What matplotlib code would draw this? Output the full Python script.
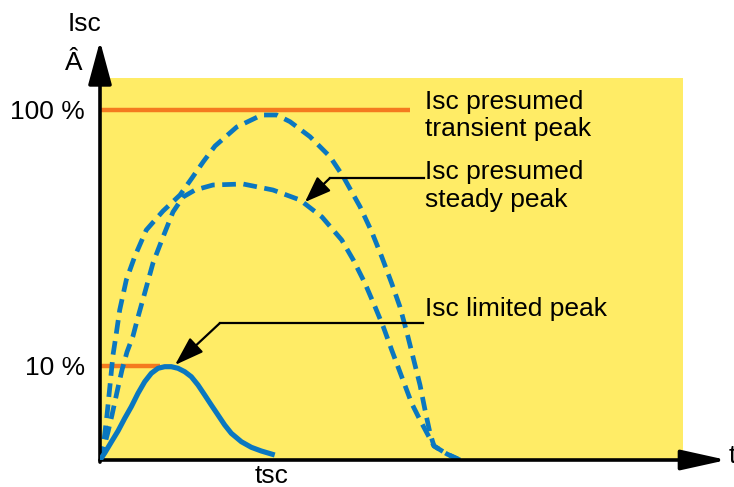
import matplotlib
matplotlib.use("Agg")
import matplotlib.pyplot as plt

plt.rcParams['font.family'] = ['Liberation Sans', 'DejaVu Sans']

# ---- data (time in arbitrary units 0..100, current in % of presumed transient peak scale)
t_transient = [0, 0.69, 1.20, 1.72, 2.23, 2.80, 3.38, 4.51, 5.95, 7.94, 10.81, 13.72, 15.78,
               17.72, 19.73, 23.45, 27.74, 30.31, 32.59, 36.02, 39.45, 41.73, 44.60, 46.60,
               48.32, 50.03, 51.46, 52.66, 53.69, 54.89, 55.75, 56.60, 57.29, 59.52, 61.75]
i_transient = [0, 5.71, 12.86, 21.43, 30.0, 36.2, 42.86, 51.43, 58.09, 65.71, 71.14, 75.71, 80.57,
               85.23, 89.71, 95.14, 98.57, 98.57, 96.66, 92.37, 86.66, 80.94, 72.37, 65.23,
               58.09, 50.49, 43.71, 36.29, 29.43, 21.43, 14.29, 7.71, 4.0, 1.71, 0]

t_steady = [0, 0.69, 1.37, 2.06, 2.92, 3.77, 4.63, 5.66, 6.52, 7.67, 9.09, 10.81, 12.52, 14.24,
            16.30, 19.38, 24.53, 29.67, 34.31, 38.08, 41.46, 43.45, 45.45, 47.17, 48.59, 50.03,
            51.75, 53.46, 54.89, 56.26, 57.29, 59.52, 61.75]
i_steady = [0, 3.71, 8.0, 12.86, 19.43, 25.71, 30.86, 35.43, 40.86, 47.71, 56.29, 63.71, 70.86, 75.14,
            77.14, 78.57, 78.86, 77.14, 74.29, 69.43, 62.86, 57.14, 50.49, 43.8, 38.09, 31.43,
            23.8, 16.2, 11.43, 7.14, 4.0, 1.71, 0]

t_limited = [0, 0.81, 1.94, 3.09, 4.24, 5.37, 6.52, 7.67, 8.80, 9.95, 11.10, 12.23, 13.38, 14.53,
             15.66, 16.81, 17.96, 19.09, 20.24, 21.39, 22.52, 24.24, 25.95, 27.67, 29.97]
i_limited = [0, 2.0, 5.14, 8.29, 11.91, 15.23, 19.06, 22.37, 24.77, 26.2, 26.66, 26.66, 26.2, 25.23,
             23.8, 21.43, 18.57, 15.71, 12.86, 10.0, 7.63, 5.23, 3.63, 2.57, 1.43]

level_100 = 100.0
level_10 = 26.86
t_sc = 29.45
ytick_values = [level_10, level_100]
ytick_labels = ['10 %', '100 %']

YELLOW = '#FFEC66'
BLUE = '#0A77C0'
ORANGE = '#F47A1F'

fig = plt.figure(figsize=(7.34, 4.87), dpi=100)
ax = fig.add_axes([100 / 734, 27 / 487, 583 / 734, 382 / 487])
ax.set_facecolor(YELLOW)
ax.set_xlim(0, 100)
ax.set_ylim(0, 109.14)
for s in ax.spines.values():
    s.set_visible(False)

# reference levels
ax.plot([0, 53.17], [level_100, level_100], color=ORANGE, lw=3.2, solid_capstyle='butt', zorder=2)
ax.plot([0, 10.3], [level_10, level_10], color=ORANGE, lw=3.2, solid_capstyle='butt', zorder=2)

# curves
ax.plot(t_transient, i_transient, color=BLUE, lw=3.4, dashes=(2.9, 1.6), zorder=3,
        solid_joinstyle='round')
ax.plot(t_steady, i_steady, color=BLUE, lw=3.4, dashes=(2.9, 1.6), zorder=3,
        solid_joinstyle='round')
ax.plot(t_limited, i_limited, color=BLUE, lw=3.7, zorder=4, solid_capstyle='butt',
        solid_joinstyle='round')

# ticks
ax.set_yticks(ytick_values)
ax.set_yticklabels(ytick_labels, fontsize=19)
ax.set_xticks([t_sc])
ax.set_xticklabels(['tsc'], fontsize=19)
ax.tick_params(axis='y', length=0, pad=11)
ax.tick_params(axis='x', length=0, pad=3)

# axis arrows
ax.annotate('', xy=(0, 119.7), xytext=(0, -0.6),
            arrowprops=dict(arrowstyle='-|>,head_length=1.33,head_width=0.36', mutation_scale=20,
                            lw=2.6, color='black', shrinkA=0, shrinkB=0),
            annotation_clip=False)
ax.annotate('', xy=(107.5, 0), xytext=(0, 0),
            arrowprops=dict(arrowstyle='-|>,head_length=1.4,head_width=0.31', mutation_scale=20,
                            lw=2.6, color='black', shrinkA=0, shrinkB=0),
            annotation_clip=False)

# annotations
ax.text(55.75, 100.3, 'Isc presumed', fontsize=19, ha='left', va='baseline')
ax.text(55.75, 92.6, 'transient peak', fontsize=19, ha='left', va='baseline')
ax.text(55.75, 80.3, 'Isc presumed', fontsize=19, ha='left', va='baseline')
ax.text(55.75, 72.3, 'steady peak', fontsize=19, ha='left', va='baseline')
ax.text(55.75, 41.1, 'Isc limited peak', fontsize=19, ha='left', va='baseline')

ax.plot([55.6, 39.45], [80.57, 80.57], color='black', lw=1.6, zorder=5)
ax.annotate('', xy=(35.16, 73.71), xytext=(39.45, 80.57),
            arrowprops=dict(arrowstyle='-|>,head_length=0.8,head_width=0.3', mutation_scale=20,
                            lw=1.6, color='black', shrinkA=0, shrinkB=0), zorder=5)
ax.plot([55.4, 20.58], [39.14, 39.14], color='black', lw=1.6, zorder=5)
ax.annotate('', xy=(12.86, 27.14), xytext=(20.58, 39.14),
            arrowprops=dict(arrowstyle='-|>,head_length=0.9,head_width=0.3', mutation_scale=20,
                            lw=1.6, color='black', shrinkA=0, shrinkB=0), zorder=5)

# axis labels
ax.text(-2.6, 122.6, 'Isc', fontsize=19, ha='center', va='baseline', clip_on=False)
ax.text(-4.5, 111.4, 'Â', fontsize=19, ha='center', va='baseline', clip_on=False)
ax.text(107.9, -0.8, 't', fontsize=19, ha='left', va='baseline', clip_on=False)

fig.savefig('out.png', dpi=100)
